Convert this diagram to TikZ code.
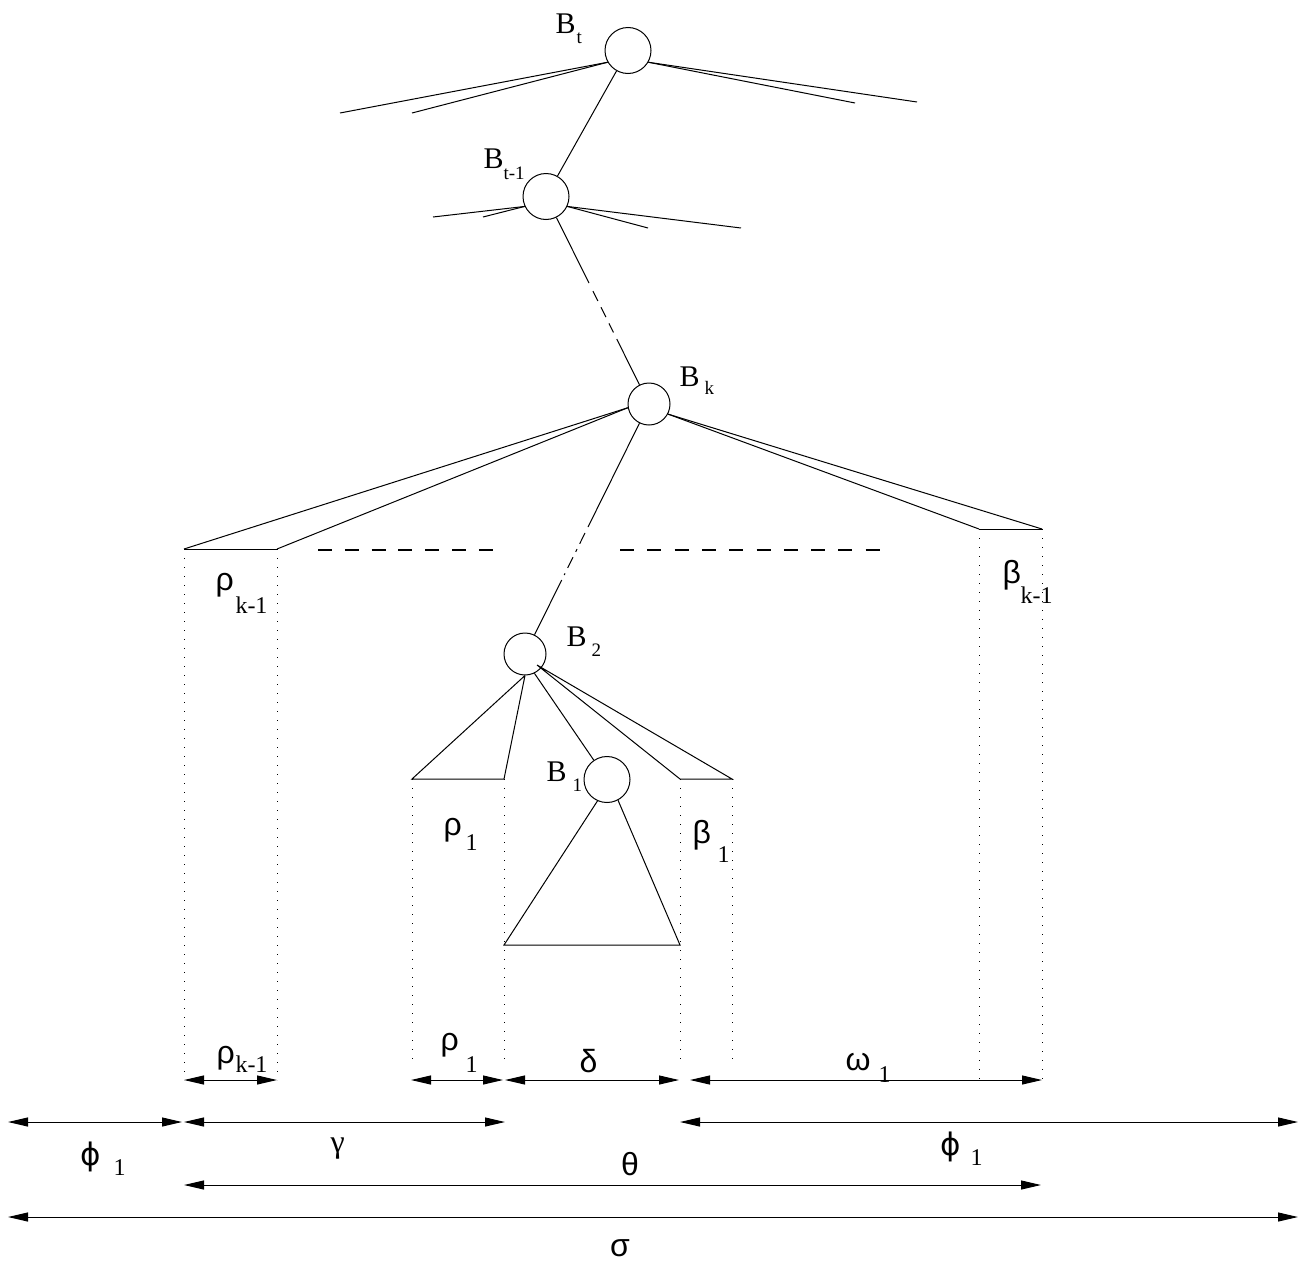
\documentclass[tikz,border=0pt]{standalone}
\usepackage{fontspec}
\setmainfont{Liberation Serif}
\newfontfamily\grfont{Liberation Sans}
\newfontfamily\phifont{DejaVu Sans}
\usetikzlibrary{arrows.meta,calc}
\begin{document}
\begin{tikzpicture}[x=1pt,y=-1pt,line width=1pt,
  bcirc/.style={circle,draw,inner sep=0pt,minimum size=#1},
  blab/.style={anchor=base west,inner sep=0pt,font=\fontsize{30}{30}\selectfont},
  bsub/.style={anchor=base west,inner sep=0pt,font=\fontsize{19}{19}\selectfont},
  glab/.style={anchor=base west,inner sep=0pt,font=\grfont\fontsize{32}{32}\selectfont},
  plab/.style={anchor=base west,inner sep=0pt,font=\phifont\fontsize{31}{31}\selectfont},
  gsub/.style={anchor=base west,inner sep=0pt,font=\fontsize{24}{24}\selectfont},
  dotline/.style={dash pattern=on 1pt off 8pt},
  dashlineL/.style={line width=1.6pt,dash pattern=on 14pt off 12.8pt},
  dashlineR/.style={line width=1.6pt,dash pattern=on 14pt off 13.3pt},
  midline/.style={dash pattern=on 11pt off 7pt},
  dimarrow/.style={{Triangle[length=20pt,width=9pt]}-{Triangle[length=20pt,width=9pt]}}
]
\useasboundingbox (0,0) rectangle (1305,1266);

% ---- tree nodes ----
\node[bcirc=46pt] (Bt)  at (628,50.5) {};
\node[bcirc=46pt] (Bt1) at (546,196.5) {};
\node[bcirc=42pt] (Bk)  at (649,404) {};
\node[bcirc=42pt] (B2)  at (525,654) {};
\node[bcirc=46pt] (B1)  at (607,779.5) {};

% ---- node labels ----
\node[blab] (lBt) at (555,33) {B};
\node[bsub] (lBts) at (576,43) {t};
\node[blab] (lBt1) at (483,168) {B};
\node[bsub] (lBt1s) at (503,179) {t-1};
\node[blab] (lBk) at (679,386) {B};
\node[bsub] (lBks) at (704,394) {k};
\node[blab] (lB2) at (566,646) {B};
\node[bsub] (lB2s) at (591,656) {2};
\node[blab] (lB1) at (546,781) {B};
\node[bsub] (lB1s) at (572,791) {1};

% ---- free ends ----
\coordinate (tl1) at (340,113);
\coordinate (tl2) at (412,113);
\coordinate (tr1) at (917,102);
\coordinate (tr2) at (855,103);
\coordinate (ul1) at (433,217);
\coordinate (ul2) at (483,217);
\coordinate (ur1) at (741,228);
\coordinate (ur2) at (648,228);
\coordinate (rkL) at (184,549);
\coordinate (rkR) at (277,549);
\coordinate (bkL) at (979,529);
\coordinate (bkR) at (1042,529);
\coordinate (r1L) at (412,779);
\coordinate (r1R) at (504,779);
\coordinate (b1L) at (680,779);
\coordinate (b1R) at (732,779);
\coordinate (tri1) at (504,945);
\coordinate (tri2) at (680,945);
\coordinate (B2in) at (537,665);

% ---- B_t ----
\draw (Bt.210) -- (tl1);
\draw (Bt.210) -- (tl2);
\draw (Bt.-30) -- (tr1);
\draw (Bt.-30) -- (tr2);
\draw (Bt) -- (Bt1);

% ---- B_{t-1} ----
\draw (Bt1.205) -- (ul1);
\draw (Bt1.205) -- (ul2);
\draw (Bt1.-25) -- (ur1);
\draw (Bt1.-25) -- (ur2);

% ---- B_{t-1} to B_k (broken) ----
\coordinate (m1a) at ($(Bt1)!0.417!(Bk)$);
\coordinate (m1b) at ($(Bt1)!0.456!(Bk)$);
\coordinate (m1c) at ($(Bt1)!0.655!(Bk)$);
\coordinate (m1d) at ($(Bt1)!0.687!(Bk)$);
\draw (Bt1) -- (m1a);
\draw[midline] (m1b) -- (m1c);
\draw (m1d) -- (Bk);

% ---- B_k ----
\draw (Bk.190) -- (rkL);
\draw (Bk.190) -- (rkR);
\draw (rkL) -- (rkR);
\draw (Bk.-28) -- (bkL);
\draw (Bk.-28) -- (bkR);
\draw (bkL) -- (bkR);

% ---- B_k to B_2 (broken) ----
\coordinate (m2a) at ($(Bk)!0.492!(B2)$);
\coordinate (m2b) at ($(Bk)!0.516!(B2)$);
\coordinate (m2c) at ($(Bk)!0.684!(B2)$);
\coordinate (m2d) at ($(Bk)!0.704!(B2)$);
\draw (Bk) -- (m2a);
\draw[dash pattern=on 12pt off 6pt on 3pt off 6pt] (m2b) -- (m2c);
\draw (m2d) -- (B2);

% ---- B_2 ----
\draw (B2.south) -- (r1L) -- (r1R) -- (B2.south);
\draw (B2.-64) -- (B1);
\draw (B2in) -- (b1L) -- (b1R) -- (B2in);

% ---- B_1 subtree ----
\draw (B1.246) -- (tri1) -- (tri2) -- (B1.-62);

% ---- dashed separators ----
\coordinate (dl1) at (318,550);
\coordinate (dl2) at (493,550);
\coordinate (dr1) at (620,550);
\coordinate (dr2) at (880,550);
\draw[dashlineL] (dl1) -- (dl2);
\draw[dashlineR] (dr1) -- (dr2);

% ---- dotted verticals ----
\coordinate (vrkL) at (184,1080);
\coordinate (vrkR) at (277,1080);
\coordinate (vr1L) at (412,1066);
\coordinate (vr1R) at (504,1066);
\coordinate (vb1L) at (680,1062);
\coordinate (vb1R) at (732,1065);
\coordinate (vbkL) at (979,1080);
\coordinate (vbkR) at (1042,1080);
\draw[dotline] (rkL) -- (vrkL);
\draw[dotline] (rkR) -- (vrkR);
\draw[dotline] (r1L) -- (vr1L);
\draw[dotline] (r1R) -- (vr1R);
\draw[dotline] (b1L) -- (vb1L);
\draw[dotline] (b1R) -- (vb1R);
\draw[dotline] (bkL) -- (vbkL);
\draw[dotline] (bkR) -- (vbkR);

% ---- inner labels ----
\node[glab] (rk) at (215,590) {ρ};
\node[gsub] (rks) at (235,613) {k-1};
\node[glab] (bk) at (1002,583) {β};
\node[gsub] (bks) at (1020,603) {k-1};
\node[glab] (r1) at (443,835) {ρ};
\node[gsub] (r1s) at (465,850) {1};
\node[glab] (b1) at (692,843) {β};
\node[gsub] (b1s) at (717,862) {1};

% ---- dimension arrows ----
\coordinate (a1) at (184,1080);  \coordinate (a2) at (277,1080);
\coordinate (a3) at (411,1080);  \coordinate (a4) at (503,1080);
\coordinate (a5) at (505,1080);  \coordinate (a6) at (679,1080);
\coordinate (a7) at (690,1080);  \coordinate (a8) at (1042,1080);
\coordinate (c1) at (8,1122);    \coordinate (c2) at (182,1122);
\coordinate (c3) at (184,1122);  \coordinate (c4) at (505,1122);
\coordinate (c5) at (680,1122);  \coordinate (c6) at (1298,1122);
\coordinate (d1) at (184,1185);  \coordinate (d2) at (1041,1185);
\coordinate (e1) at (8,1217);    \coordinate (e2) at (1298,1217);
\draw[dimarrow] (a1) -- (a2);
\draw[dimarrow] (a3) -- (a4);
\draw[dimarrow] (a5) -- (a6);
\draw[dimarrow] (a7) -- (a8);
\draw[dimarrow] (c1) -- (c2);
\draw[dimarrow] (c3) -- (c4);
\draw[dimarrow] (c5) -- (c6);
\draw[dimarrow] (d1) -- (d2);
\draw[dimarrow] (e1) -- (e2);

% ---- dimension labels ----
\node[glab] (lrk) at (216,1063) {ρ};
\node[gsub] (lrks) at (235,1072) {k-1};
\node[glab] (lr1) at (440,1050) {ρ};
\node[gsub] (lr1s) at (465,1072) {1};
\node[glab] (ldelta) at (579,1072) {δ};
\node[glab] (lomega) at (845,1070) {ω};
\node[gsub] (lomegas) at (878,1082) {1};
\node[plab] (lphiL) at (80,1165) {ϕ};
\node[gsub] (lphiLs) at (113,1175) {1};
\node[glab,font=\fontsize{32}{32}\selectfont] (lgamma) at (330,1152) {γ};
\node[glab,anchor=base] (ltheta) at (630,1175) {θ};
\node[plab] (lphiR) at (940,1155) {ϕ};
\node[gsub] (lphiRs) at (970,1165) {1};
\node[glab,anchor=base] (lsigma) at (620,1256) {σ};
\end{tikzpicture}
\end{document}
